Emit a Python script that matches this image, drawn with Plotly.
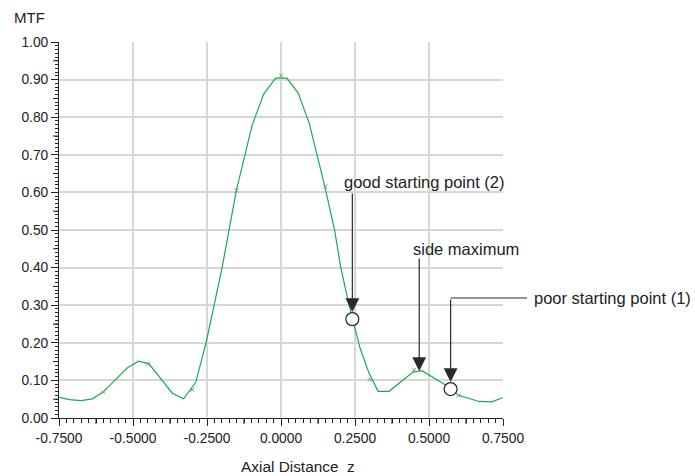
import plotly.graph_objects as go

# MTF along the axial coordinate (polyline vertices)
z_curve = [-0.750, -0.714, -0.676, -0.637, -0.601, -0.520, -0.481, -0.446, -0.367, -0.329,
           -0.288, -0.252, -0.199, -0.176, -0.151, -0.097, -0.058, -0.018, 0.020, 0.058,
           0.095, 0.148, 0.181, 0.202, 0.230, 0.267, 0.297, 0.328, 0.365, 0.446,
           0.476, 0.553, 0.598, 0.669, 0.711, 0.750]
mtf_curve = [0.055, 0.049, 0.046, 0.051, 0.069, 0.133, 0.151, 0.144, 0.066, 0.051,
             0.095, 0.204, 0.400, 0.500, 0.605, 0.780, 0.862, 0.904, 0.904, 0.864,
             0.785, 0.616, 0.500, 0.400, 0.300, 0.186, 0.120, 0.071, 0.071, 0.122,
             0.126, 0.089, 0.061, 0.044, 0.043, 0.054]

# Computed sample points shown as small markers
z_mark = [-0.60, -0.45, -0.30, -0.15, 0.00, 0.15, 0.30, 0.45, 0.60]
mtf_mark = [0.069, 0.144, 0.075, 0.605, 0.911, 0.616, 0.102, 0.128, 0.060]

# Highlighted positions
call_labels = ["good starting point (2)", "side maximum", "poor starting point (1)"]
z_call = [0.241, 0.467, 0.573]
mtf_call = [0.263, 0.125, 0.077]
call_circle = [True, False, True]

# Axis ticks
x_ticks = [-0.75, -0.50, -0.25, 0.00, 0.25, 0.50, 0.75]
y_ticks = [0.0, 0.1, 0.2, 0.3, 0.4, 0.5, 0.6, 0.7, 0.8, 0.9, 1.0]
x_mid_ticks = [-0.625, -0.375, -0.125, 0.125, 0.375, 0.625]
y_mid_ticks = [0.05, 0.15, 0.25, 0.35, 0.45, 0.55, 0.65, 0.75, 0.85, 0.95]

W, H = 695, 476
ML, MR, MT, MB = 59, 192, 42, 58
PW, PH = W - ML - MR, H - MT - MB
FONT = "Liberation Sans, Arial, Helvetica, sans-serif"
INK = "#222222"
XR = [-0.75, 0.75]


def px(xp):
    return (xp - ML) / PW


def py(yp):
    return (H - MB - yp) / PH


fig = go.Figure()
fig.add_trace(go.Scatter(x=z_curve, y=mtf_curve, mode="lines",
                         line=dict(color="#1aaa52", width=1.2),
                         hoverinfo="skip", showlegend=False))
fig.add_trace(go.Scatter(x=z_mark, y=mtf_mark, mode="markers",
                         marker=dict(symbol="x-thin", size=4,
                                     line=dict(color="#7a9a7a", width=1)),
                         hoverinfo="skip", showlegend=False))
cz = [z for z, c in zip(z_call, call_circle) if c]
cm = [m for m, c in zip(mtf_call, call_circle) if c]
fig.add_trace(go.Scatter(x=cz, y=cm, mode="markers",
                         marker=dict(symbol="circle", size=13, color="white",
                                     line=dict(color=INK, width=1.2)),
                         hoverinfo="skip", showlegend=False))

shapes = []
for xv in x_mid_ticks:
    shapes.append(dict(type="line", xref="x", yref="paper", x0=xv, x1=xv,
                       y0=0, y1=-6 / PH, line=dict(color=INK, width=1)))
for yv in y_mid_ticks:
    shapes.append(dict(type="line", xref="paper", yref="y", x0=0, x1=-6 / PW,
                       y0=yv, y1=yv, line=dict(color=INK, width=1)))

annotations = [
    dict(text="MTF", x=px(12), y=py(17), xref="paper", yref="paper",
         xanchor="left", yanchor="middle", showarrow=False,
         font=dict(family=FONT, size=15, color=INK)),
    dict(text="Axial Distance\u00a0\u00a0z", x=px(239), y=py(466), xref="paper", yref="paper",
         xanchor="left", yanchor="middle", showarrow=False,
         font=dict(family=FONT, size=15.4, color=INK)),
]

label_pos = [(342, 182), (411, 249), (532, 298)]
tail_y = [192, 257, 298]
standoffs = [7, 0, 7]
for lab, (lx, ly), z, m, ty, so in zip(call_labels, label_pos, z_call, mtf_call, tail_y, standoffs):
    annotations.append(dict(text=lab, x=px(lx), y=py(ly), xref="paper", yref="paper",
                            xanchor="left", yanchor="middle", showarrow=False,
                            font=dict(family=FONT, size=16.5, color=INK)))
    point_y = (H - MB) - m * PH
    annotations.append(dict(text="", x=z, y=m, xref="x", yref="y",
                            showarrow=True, ax=0, ay=ty - point_y,
                            arrowhead=2, arrowsize=2.3, arrowwidth=1.2,
                            arrowcolor="#2a2a2a", standoff=so))

# elbow of the "poor starting point" callout
zp = z_call[2]
shapes.append(dict(type="line", xref="paper", yref="paper",
                   x0=(zp - XR[0]) / (XR[1] - XR[0]), x1=px(527),
                   y0=py(298), y1=py(298), line=dict(color="#2a2a2a", width=1.2)))

fig.update_layout(
    width=W, height=H,
    margin=dict(l=ML, r=MR, t=MT, b=MB, pad=0),
    paper_bgcolor="white", plot_bgcolor="white",
    font=dict(family=FONT, size=13.8, color=INK),
    shapes=shapes, annotations=annotations,
    xaxis=dict(range=XR, tickvals=x_ticks, ticktext=["%.4f" % v for v in x_ticks],
               showgrid=True, gridcolor="#d6d6d6", gridwidth=1.5, zeroline=False,
               showline=True, linecolor=INK, linewidth=1,
               ticks="outside", ticklen=7, tickcolor=INK, tickwidth=1,
               minor=dict(dtick=0.025, tick0=0, ticks="outside", ticklen=4,
                          tickcolor=INK, tickwidth=1, showgrid=False),
               tickfont=dict(family=FONT, size=13.8, color=INK)),
    yaxis=dict(range=[0, 1], tickvals=y_ticks, ticktext=["%.2f" % v for v in y_ticks],
               showgrid=True, gridcolor="#d6d6d6", gridwidth=1.5, zeroline=False,
               showline=True, linecolor=INK, linewidth=1,
               ticks="outside", ticklen=7, tickcolor=INK, tickwidth=1,
               minor=dict(dtick=0.01, tick0=0, ticks="outside", ticklen=3,
                          tickcolor=INK, tickwidth=1, showgrid=False),
               tickfont=dict(family=FONT, size=13.8, color=INK)),
)

fig.write_html("out.html")
